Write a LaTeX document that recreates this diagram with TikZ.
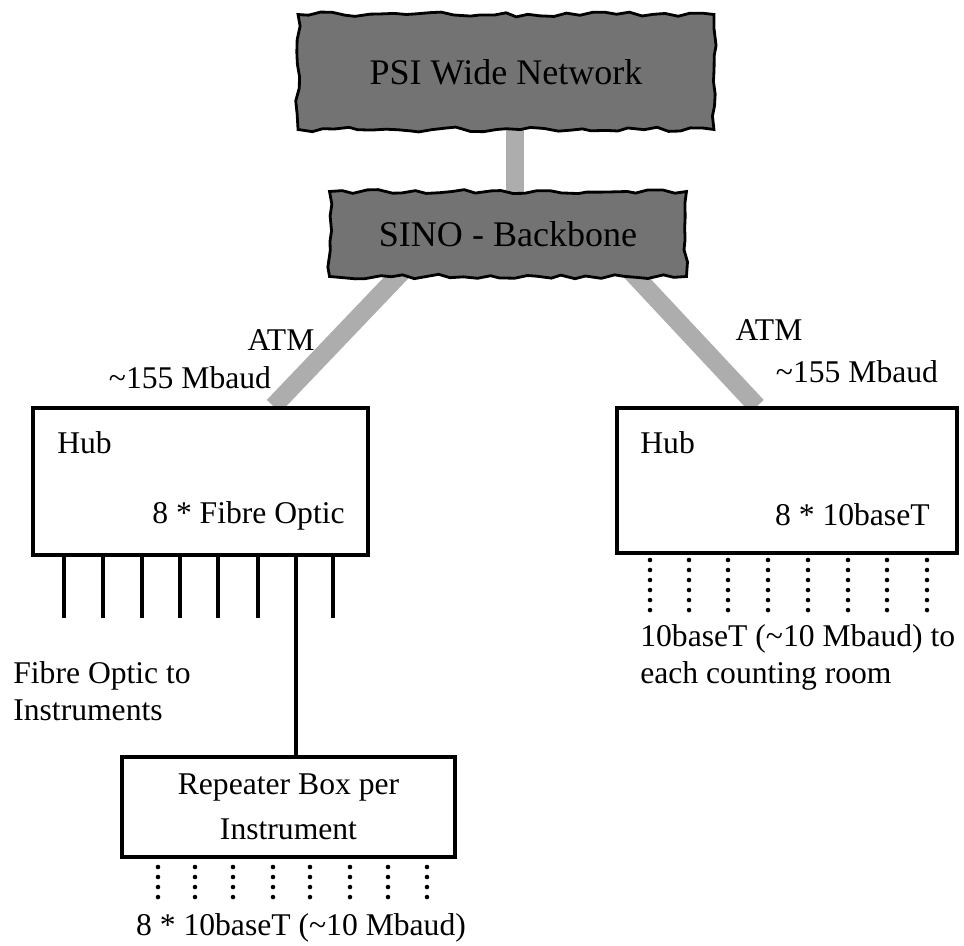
\documentclass[tikz,border=0pt]{standalone}
\usepackage{fontspec}
\setmainfont{Liberation Serif}
\usetikzlibrary{positioning,calc,backgrounds,decorations.pathmorphing}
\tikzset{
  bnr/.style={draw=black,line width=1.6pt,fill=black!55,inner sep=0pt,
    decorate,decoration={random steps,segment length=7pt,amplitude=1.4pt},
    font=\fontsize{20.5}{24}\selectfont},
  hb/.style={draw=black,line width=2pt,fill=white,inner sep=0pt},
  trk/.style={draw=black!32,line width=10.5pt},
  fib/.style={draw=black,line width=2.8pt},
  tp/.style={draw=black,line width=2.6pt,line cap=round,dash pattern=on 0pt off 5.7pt},
  lb/.style={font=\fontsize{18}{21}\selectfont,inner sep=0pt},
}
\pgfmathsetseed{4711}

\begin{document}
\begin{tikzpicture}[x=0.02cm,y=-0.02cm]
\useasboundingbox (0,0) rectangle (964,946);
% ---- networks at the top
\node[bnr,minimum width=8.32cm,minimum height=2.3cm] (psi) at (506,72) {PSI Wide Network};
\node[bnr,minimum width=7.14cm,minimum height=1.7cm] (sino) at (508,234) {SINO - Backbone};
% ---- hubs
\node[hb,minimum width=6.7cm,minimum height=2.94cm] (hubL) at (200.5,481.5) {};
\node[hb,minimum width=6.8cm,minimum height=2.9cm] (hubR) at (787,480.5) {};
\node[lb,anchor=base west] at (57,453) {Hub};
\node[lb,anchor=base east] at (345,523) {8 * Fibre Optic};
\node[lb,anchor=base west] at (640,453) {Hub};
\node[lb,anchor=base east] at (930,525) {8 * 10baseT};
% ---- ATM trunks
\begin{scope}[on background layer]
  \draw[trk] ($(psi.center)+(9,0)$) -- ($(sino.center)+(7,0)$);
  \draw[trk] ($(sino.center)+(-70,0)$) -- ($(hubL.north)+(73,0)$);
  \draw[trk] ($(sino.center)+(88,0)$) -- ($(hubR.north)+(-30,0)$);
\end{scope}
\node[lb,anchor=base] at (281,350) {ATM};
\node[lb,anchor=base] at (190,388) {\textasciitilde155 Mbaud};
\node[lb,anchor=base] at (769,340) {ATM};
\node[lb,anchor=base] at (857,382) {\textasciitilde155 Mbaud};
% ---- repeater box
\node[hb,minimum width=6.66cm,minimum height=2cm,align=center,
  font=\fontsize{18}{25.6}\selectfont] (rep) at (288.5,807) {Repeater Box per\\Instrument};
% ---- fibre outputs, one of them to the repeater
\foreach \x [count=\i] in {64,103,142,180,218,258,296,333}{
  \coordinate (f\i) at (\x,618);
  \draw[fib] (f\i |- hubL.south) -- (f\i);
}
\draw[fib] (f7) -- (f7 |- rep.north);
\node[lb,anchor=north west,align=left] at (13,661) {Fibre Optic to\\Instruments};
% ---- 10baseT outputs
\foreach \x [count=\i] in {650,689,728,768,808,848,887,927}{
  \coordinate (t\i) at (\x,612);
  \draw[tp] (\x,560) -- (t\i);
}
\node[lb,anchor=north west,align=left] at (640,624) {10baseT (\textasciitilde10 Mbaud) to\\each counting room};
\foreach \x [count=\i] in {158,195,233,273,310,350,388,427}{
  \coordinate (r\i) at (\x,907);
  \draw[tp] (\x,867) -- (r\i);
}
\node[lb,anchor=base] at (301,935) {8 * 10baseT (\textasciitilde10 Mbaud)};
\end{tikzpicture}
\end{document}
